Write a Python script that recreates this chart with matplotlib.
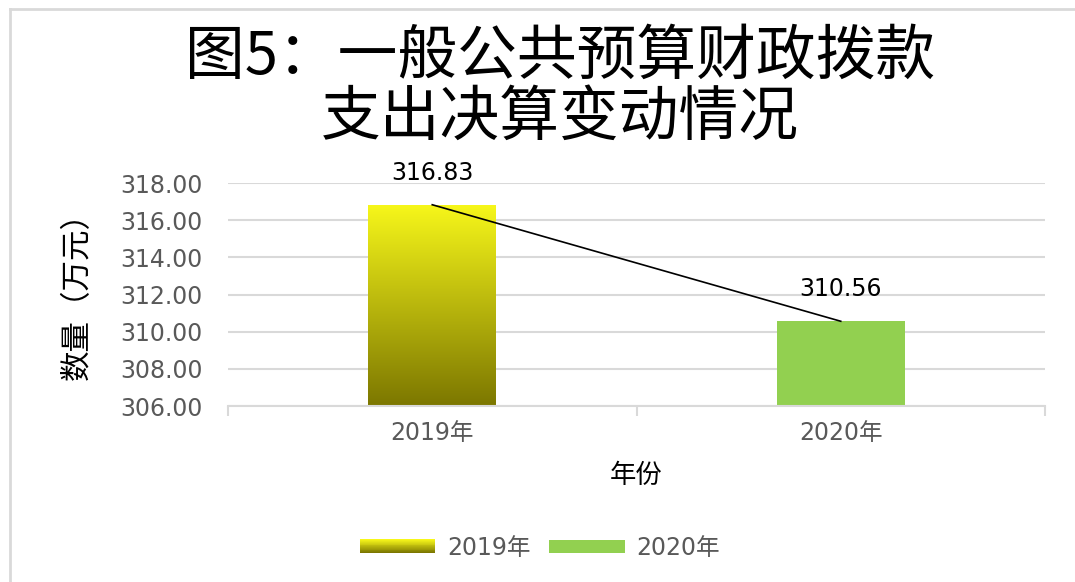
import numpy as np
import matplotlib
matplotlib.use('Agg')
import matplotlib.pyplot as plt
from matplotlib.patches import Rectangle
from matplotlib.legend_handler import HandlerBase
from matplotlib.lines import Line2D

plt.rcParams['font.family'] = ['DejaVu Sans', 'Noto Sans CJK SC']

# 数据
categories = ['2019年', '2020年']
values = [316.83, 310.56]
yticks = [306, 308, 310, 312, 314, 316, 318]

title_lines = ['图5：一般公共预算财政拨款', '支出决算变动情况']

GRID = '#D9D9D9'
TICK = '#595959'
GREEN = '#92D050'
TOP = np.array([247, 247, 26]) / 255
BOT = np.array([124, 119, 0]) / 255


def gradient_colors(n):
    """Cores do topo para a base."""
    t = np.linspace(0, 1, n)[:, None]
    return TOP * (1 - t) + BOT * t


class GradientHandler(HandlerBase):
    def create_artists(self, legend, orig_handle, xdescent, ydescent,
                       width, height, fontsize, trans):
        n = 16
        cols = gradient_colors(n)
        arts = []
        for i in range(n):
            r = Rectangle((-xdescent, -ydescent + height - (i + 1) * height / n),
                          width, height / n + 0.3, facecolor=cols[i],
                          edgecolor='none', transform=trans)
            arts.append(r)
        return arts


fig = plt.figure(figsize=(10.75, 5.82), dpi=100)
ax = fig.add_axes([228 / 1075, 1 - 406 / 582, 817 / 1075, 223 / 582])

x = np.arange(len(categories))
width = 0.313
bars = ax.bar(x, [v - yticks[0] for v in values], bottom=yticks[0], width=width,
              color=['none', GREEN], edgecolor='none', zorder=2)

# gradiente na primeira barra
b = bars[0]
grad = gradient_colors(256)[:, None, :]
im = ax.imshow(grad, aspect='auto', zorder=2,
               extent=[b.get_x(), b.get_x() + b.get_width(), yticks[0], values[0]])
im.set_clip_path(b)

ax.plot(x, values, color='black', lw=1.2, zorder=3)

for xi, v in zip(x, values):
    ax.annotate(f'{v:.2f}', (xi, v), xytext=(0, 23), textcoords='offset points',
                ha='center', va='center', fontsize=17, color='black')

ax.set_xlim(-0.5, 1.5)
ax.set_ylim(yticks[0], yticks[-1])
ax.set_yticks(yticks)
ax.set_yticklabels([f'{t:.2f}' for t in yticks])
ax.set_xticks(x)
ax.set_xticklabels(categories)
ax.set_xticks([-0.5, 0.5, 1.5], minor=True)
ax.tick_params(axis='y', length=0, pad=18, labelsize=17, labelcolor=TICK)
ax.tick_params(axis='x', which='major', length=0, pad=11, labelsize=17, labelcolor=TICK)
ax.tick_params(axis='x', which='minor', length=7, width=1.5, color=GRID)
ax.grid(axis='y', color=GRID, lw=1.5, zorder=0)
ax.set_axisbelow(True)
for s in ['top', 'right', 'left']:
    ax.spines[s].set_visible(False)
ax.spines['bottom'].set_color(GRID)
ax.spines['bottom'].set_linewidth(1.5)

ax.set_xlabel('年份', fontsize=19, labelpad=12, family=['Noto Sans CJK SC'])

fig.text(77 / 1075, 1 - 288 / 582, '数量（万元）', rotation=90, ha='center', va='center',
         fontsize=22, family=['Noto Sans CJK SC'])

fig.text(560 / 1075, 1 - 57 / 582, title_lines[0], ha='center', va='center',
         fontsize=43, family=['Noto Sans CJK SC'])
fig.text(560 / 1075, 1 - 118 / 582, title_lines[1], ha='center', va='center',
         fontsize=43, family=['Noto Sans CJK SC'])

handles = [Rectangle((0, 0), 1, 1), Rectangle((0, 0), 1, 1, facecolor=GREEN, edgecolor='none')]
leg = fig.legend(handles, categories, loc='center', bbox_to_anchor=(540 / 1075, 1 - 548 / 582),
                 ncol=2, frameon=False, fontsize=17, handlelength=3.2, handleheight=0.5,
                 columnspacing=0.8, handletextpad=0.5,
                 handler_map={handles[0]: GradientHandler()})
for t in leg.get_texts():
    t.set_color(TICK)

# moldura do gráfico
fig.add_artist(Line2D([10 / 1075, 10 / 1075], [0, 1 - 9 / 582], transform=fig.transFigure,
                      color=GRID, lw=2))
fig.add_artist(Line2D([10 / 1075, 1], [1 - 9 / 582, 1 - 9 / 582], transform=fig.transFigure,
                      color=GRID, lw=2))

fig.savefig('out.png', dpi=100)
